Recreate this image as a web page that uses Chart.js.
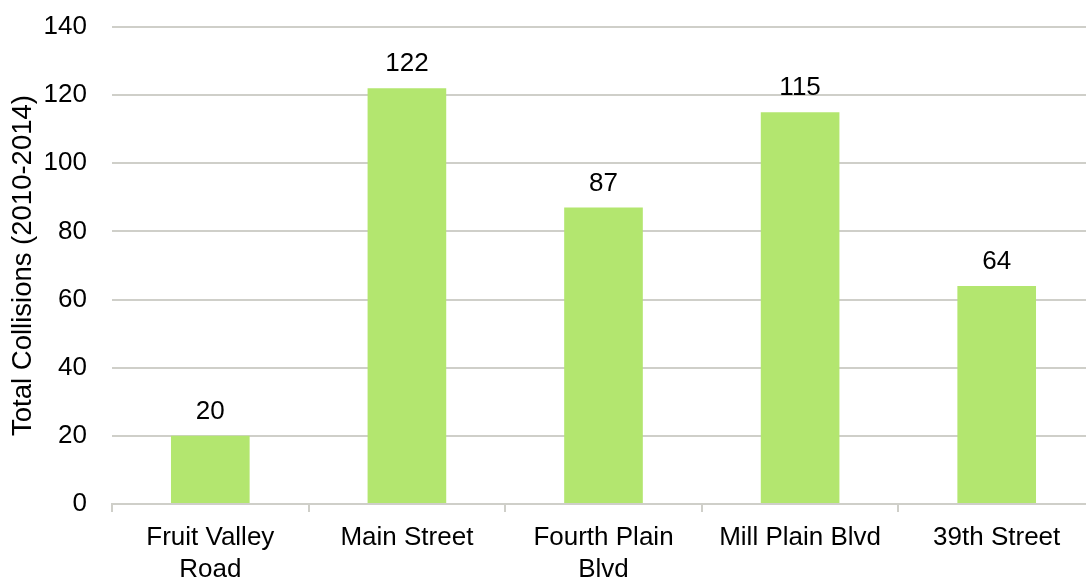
<!DOCTYPE html>
<html>
<head>
<meta charset="utf-8">
<script src="https://cdn.jsdelivr.net/npm/chart.js@4/dist/chart.umd.min.js"></script>
<style>
  html, body { margin: 0; padding: 0; background: #fff; overflow: hidden; }
  canvas { display: block; }
</style>
</head>
<body>
<canvas id="c" width="1096" height="577"></canvas>
<script>
const categories = [["Fruit Valley", "Road"], "Main Street", ["Fourth Plain", "Blvd"], "Mill Plain Blvd", "39th Street"];
const collisions = [20, 122, 87, 115, 64];
const yTicks = [0, 20, 40, 60, 80, 100, 120, 140];
const yTitle = "Total Collisions (2010-2014)";

const FONT = "'Liberation Sans', Arial, sans-serif";
const GRID = "#cfcfc9";

const valueLabels = {
  id: "valueLabels",
  afterDatasetsDraw(chart) {
    const ctx = chart.ctx;
    const meta = chart.getDatasetMeta(0);
    ctx.save();
    ctx.font = "26px " + FONT;
    ctx.fillStyle = "#000";
    ctx.textAlign = "center";
    ctx.textBaseline = "alphabetic";
    meta.data.forEach((bar, i) => {
      ctx.fillText(String(chart.data.datasets[0].data[i]), bar.x, bar.y - 17);
    });
    ctx.restore();
  }
};

new Chart(document.getElementById("c"), {
  type: "bar",
  data: {
    labels: categories,
    datasets: [{
      data: collisions,
      backgroundColor: "#b3e66f",
      borderWidth: 0,
      barPercentage: 0.4,
      categoryPercentage: 1.0
    }]
  },
  options: {
    responsive: false,
    animation: false,
    devicePixelRatio: 1,
    layout: { padding: { top: 27, right: 1, left: 0, bottom: 0 } },
    plugins: { legend: { display: false }, title: { display: false }, tooltip: { enabled: false } },
    scales: {
      x: {
        grid: { display: true, drawOnChartArea: false, drawTicks: true, tickLength: 8, offset: true, color: GRID, lineWidth: 2 },
        border: { display: true, color: GRID, width: 2 },
        ticks: { color: "#000", font: { family: FONT, size: 26, lineHeight: 1.23 }, padding: 10, maxRotation: 0, autoSkip: false },
        afterFit(scale) { scale.height = 73; scale.paddingLeft = 0; scale.paddingRight = 0; }
      },
      y: {
        min: 0, max: 140,
        afterBuildTicks(scale) { scale.ticks = yTicks.map(v => ({ value: v })); },
        grid: { color: GRID, lineWidth: 2, drawTicks: false },
        border: { display: false },
        ticks: { color: "#000", font: { family: FONT, size: 26 }, padding: 25 },
        title: { display: true, text: yTitle, color: "#000", font: { family: FONT, size: 27.5 }, padding: { top: 7, bottom: 0 } },
        afterFit(scale) { scale.width = 112; scale.paddingTop = 0; scale.paddingBottom = 0; }
      }
    }
  },
  plugins: [valueLabels]
});
</script>
</body>
</html>
